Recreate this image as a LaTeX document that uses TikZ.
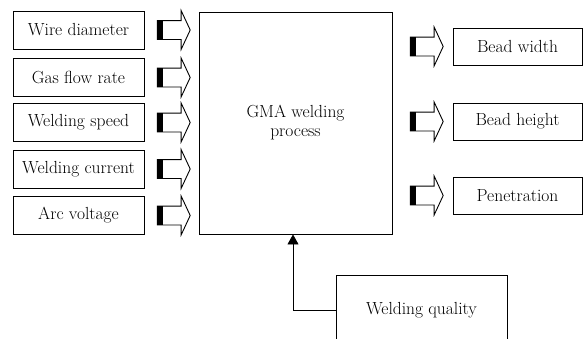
\documentclass[tikz,border=0pt]{standalone}
\usetikzlibrary{shapes.arrows,arrows.meta}

\tikzset{
  inbox/.style={draw, line width=0.9pt, minimum width=131pt, minimum height=38pt, inner sep=0pt, font=\fontsize{17.5}{19}\selectfont},
  outbox/.style={draw, line width=0.9pt, minimum width=129pt, minimum height=37pt, inner sep=0pt, font=\fontsize{17.5}{19}\selectfont},
  blockarrow/.style={single arrow, draw, line width=0.9pt, inner xsep=0pt, inner ysep=9pt,
    minimum width=0pt, minimum height=33pt, single arrow head extend=10pt, single arrow tip angle=130,
    path picture={\fill ([xshift=-1pt]path picture bounding box.south west) rectangle ([xshift=6pt]path picture bounding box.north west);}}
}

\begin{document}
\begin{tikzpicture}[x=1pt, y=-1pt]
    \clip (0,0) rectangle (583,338);

    % Input parameters
    \node[inbox] (wire) at (78.5,30) {Wire diameter};
    \node[inbox] (gas) at (78.5,77.5) {Gas flow rate};
    \node[inbox] (speed) at (78.5,122.5) {Welding speed};
    \node[inbox] (current) at (78.5,169) {Welding current};
    \node[inbox] (voltage) at (78.5,215.5) {Arc voltage};

    % Process
    \node[draw, line width=0.9pt, minimum width=193pt, minimum height=222pt, align=center, font=\fontsize{17.5}{19}\selectfont] (process) at (295.5,123) {GMA welding\\process};

    % Outputs
    \node[outbox] (width) at (517.5,46.5) {Bead width};
    \node[outbox] (height) at (517.5,121.5) {Bead height};
    \node[outbox] (penetration) at (517.5,195.5) {Penetration};

    \node[draw, line width=0.9pt, minimum width=171pt, minimum height=70pt, font=\fontsize{17.5}{19}\selectfont] (quality) at (421.5,310) {Welding quality};

    % Block arrows
    \node[blockarrow] (awire) at (171.5,30) {};
    \node[blockarrow] (agas) at (171.5,77.5) {};
    \node[blockarrow] (aspeed) at (171.5,122.5) {};
    \node[blockarrow] (acurrent) at (171.5,169) {};
    \node[blockarrow] (avoltage) at (171.5,215.5) {};

    \node[blockarrow] (awidth) at (424.5,46.5) {};
    \node[blockarrow] (aheight) at (424.5,121.5) {};
    \node[blockarrow] (apenetration) at (424.5,195.5) {};

    % Feedback
    \draw[-{Triangle[length=10pt, width=11pt]}, line width=0.8pt] (quality.west) -| ([xshift=-2.5pt]process.south);
\end{tikzpicture}
\end{document}
